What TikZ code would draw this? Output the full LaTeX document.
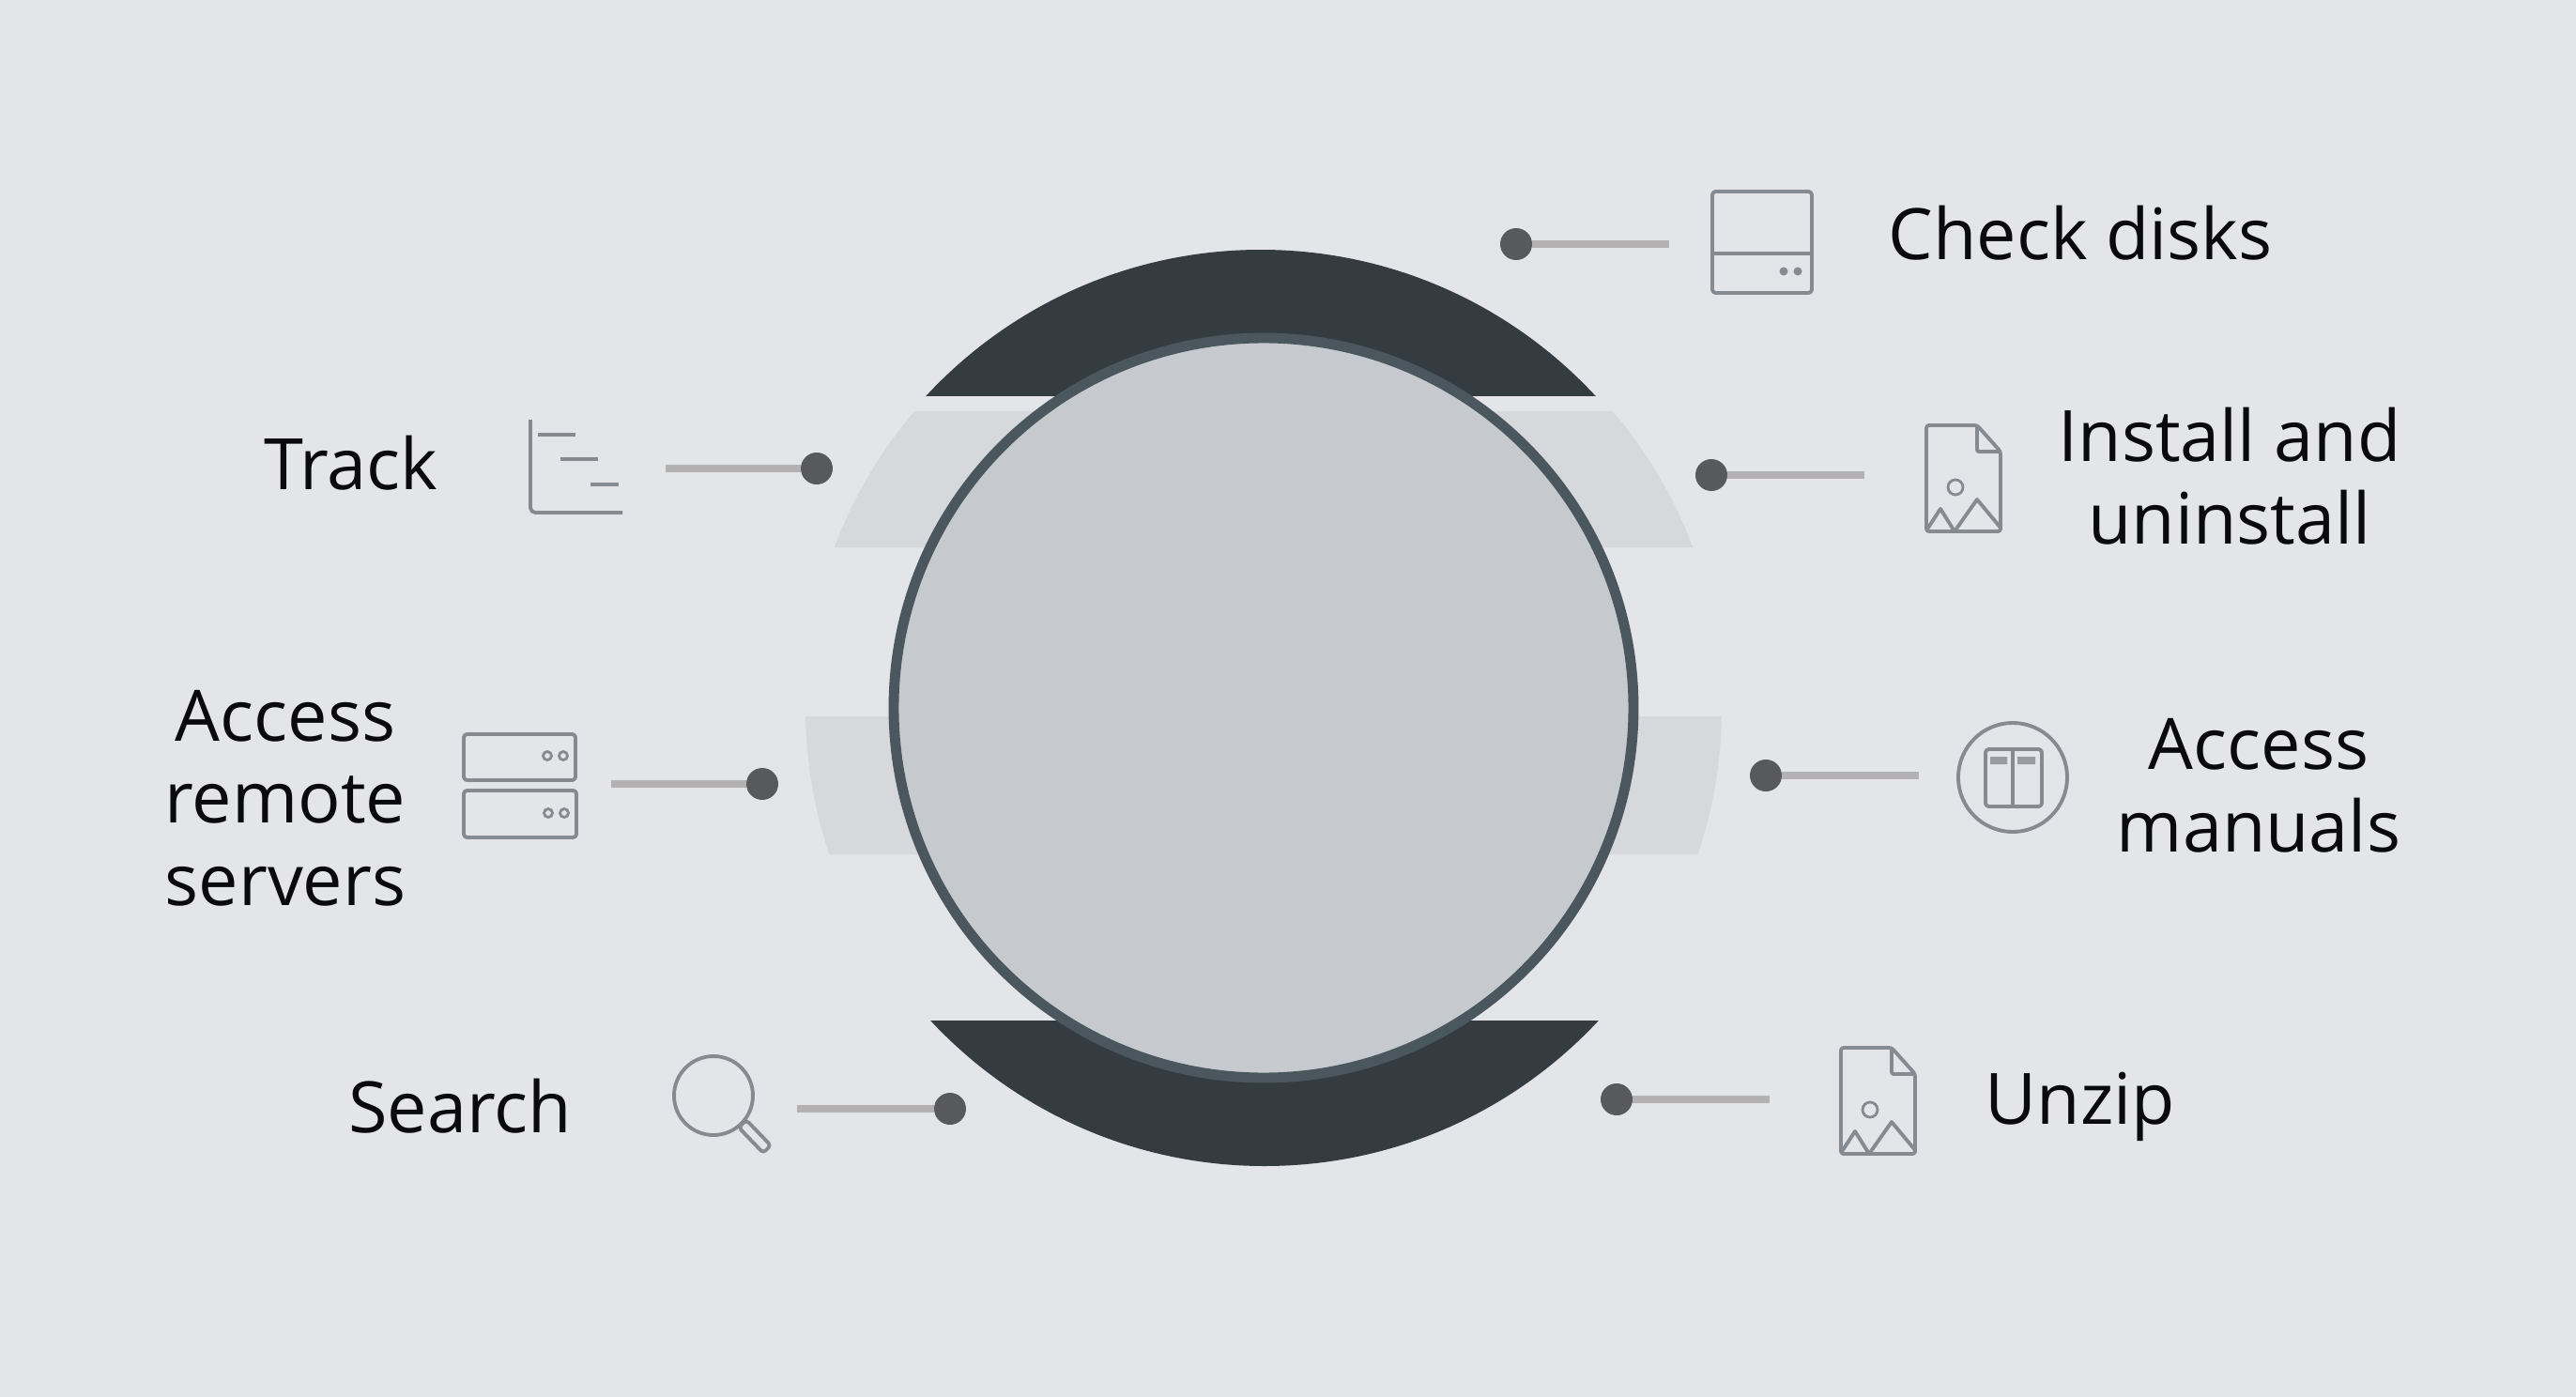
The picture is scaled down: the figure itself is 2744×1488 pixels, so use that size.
\documentclass[tikz,border=0pt]{standalone}
\usepackage{fontspec}
\setmainfont{Open Sans}
\definecolor{bgc}{HTML}{E4E5E9}
\definecolor{darkband}{HTML}{343C42}
\definecolor{lightband}{HTML}{D7D8DB}
\definecolor{hubfill}{HTML}{C6CACF}
\definecolor{hubline}{HTML}{4A575E}
\definecolor{dotc}{HTML}{58595B}
\definecolor{linkc}{HTML}{B3B1B2}
\definecolor{iconc}{HTML}{868B92}
\definecolor{labelc}{HTML}{0A0A0C}
\tikzset{
  hub/.style={circle,draw=hubline,line width=3.1pt,fill=hubfill,inner sep=0pt,outer sep=0pt,minimum size=78.8mm},
  dotnode/.style={circle,fill=dotc,inner sep=0pt,outer sep=0pt,minimum size=3.4mm},
  link/.style={draw=linkc,line width=2pt},
  iconline/.style={draw=iconc,line width=1.1pt,line join=round},
  iconthin/.style={draw=iconc,line width=0.8pt},
  label/.style={font=\fontsize{21.5}{24.9}\selectfont,text=labelc,align=center,inner sep=0pt},
  docicon/.pic={
    \draw[iconline,rounded corners=0.8pt] (0,0) -- (54,0) -- (79,28) -- (79,113) -- (0,113) -- cycle;
    \draw[iconline,rounded corners=0.6pt] (54,0) -- (54,28) -- (79,28);
    \draw[iconthin] (31,66) circle[radius=8];
    \draw[iconline] (0,112) -- (15,89) -- (30,113);
    \draw[iconline] (30,113) -- (54,79) -- (79,109);
  }
}
\begin{document}
\begin{tikzpicture}[x=0.1mm,y=-0.1mm]
\useasboundingbox (0,0) rectangle (2744,1488);
\fill[bgc] (0,0) rectangle (2744,1488);
% bands
\begin{scope}
  \clip (800,438) rectangle (1900,583) (800,763) rectangle (1900,910);
  \fill[lightband] (1346,754) circle[radius=488];
\end{scope}
\begin{scope}
  \clip (800,200) rectangle (1900,421);
  \fill[darkband] (1343,752) circle[radius=486];
\end{scope}
\begin{scope}
  \clip (800,1087) rectangle (1900,1300);
  \fill[darkband] (1347,756) circle[radius=486];
\end{scope}
\node[hub] (hubc) at (1346,754) {};
% dots, free ends, connectors
\node[dotnode] (d1) at (1615,260) {};
\coordinate (e1) at (1778,260);
\node[dotnode] (d2) at (1823,506) {};
\coordinate (e2) at (1986,506);
\node[dotnode] (d3) at (1881,826) {};
\coordinate (e3) at (2044,826);
\node[dotnode] (d4) at (1722,1171) {};
\coordinate (e4) at (1885,1171);
\node[dotnode] (d5) at (870,499) {};
\coordinate (e5) at (709,499);
\node[dotnode] (d6) at (812,835) {};
\coordinate (e6) at (651,835);
\node[dotnode] (d7) at (1012,1181) {};
\coordinate (e7) at (849,1181);
\foreach \n in {1,2,3,4} {\draw[link] (d\n.east) -- (e\n);}
\foreach \n in {5,6,7} {\draw[link] (d\n.west) -- (e\n);}
% disk icon
\draw[iconline,rounded corners=1pt] (1824,204) rectangle (1930,312);
\draw[iconline] (1824,270) -- (1930,270);
\fill[iconc] (1900,289) circle[radius=4.5] (1915,289) circle[radius=4.5];
% document icons
\pic at (2052,453) {docicon};
\pic at (1961,1116) {docicon};
% manual icon
\draw[iconline] (2144,828) circle[radius=58];
\draw[iconline,rounded corners=1pt] (2115,798) rectangle (2175,859);
\draw[iconline] (2144,798) -- (2144,859);
\fill[iconc!85] (2120,806) rectangle (2138,814) (2149,806) rectangle (2168,814);
% track icon
\draw[iconline,rounded corners=1.5pt] (565,447) -- (565,546) -- (663,546);
\draw[iconline] (573,463) -- (613,463) (597,489) -- (637,489) (629,516) -- (659,516);
% server icon
\draw[iconline,rounded corners=1pt] (494,782) rectangle (613,831);
\draw[iconline,rounded corners=1pt] (494,842) rectangle (614,892);
\draw[iconthin] (583,805) circle[radius=4.5] (600,805) circle[radius=4.5] (584,866) circle[radius=4.5] (601,866) circle[radius=4.5];
% search icon
\draw[iconline] (760,1167) circle[radius=42];
\draw[iconline,rounded corners=1pt] (787,1201) -- (795,1193) -- (821,1220) -- (813,1228) -- cycle;
% labels
\node[label] (t1) at (2216,248) {Check disks};
\node[label] (t2) at (2375,507) {Install and\\uninstall};
\node[label] (t3) at (2406,837) {Access\\manuals};
\node[label] (t4) at (2216,1179) {Unzip};
\node[label] (t5) at (374,493) {Track};
\node[label] (t6) at (304,850) {Access\\remote\\servers};
\node[label] (t7) at (490,1178) {Search};
\end{tikzpicture}
\end{document}
